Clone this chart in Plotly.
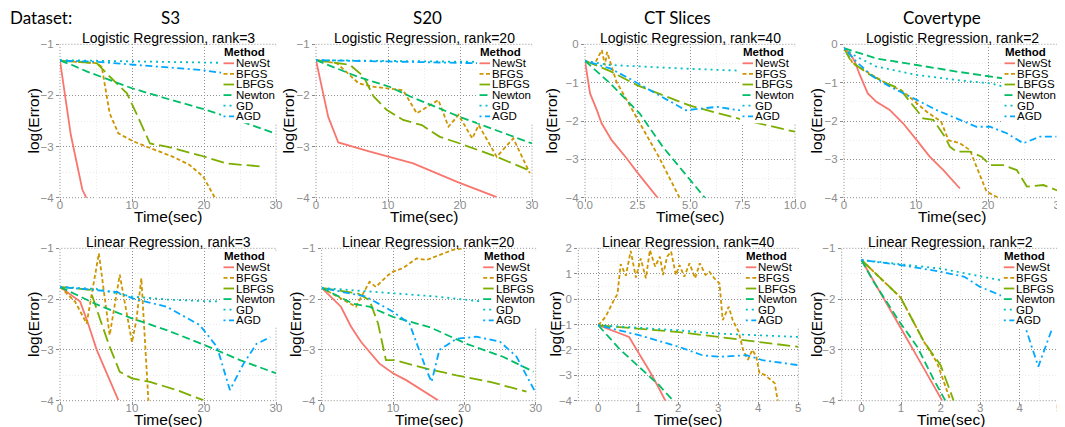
import plotly.graph_objects as go

# page photographed at 1065x427; the HTML body adds an 8px margin, so the figure
# is drawn 8px smaller and every screen position is shifted by that offset.
PAGE_W, PAGE_H = 1065, 427
OFF = 8
W, H = PAGE_W - OFF, PAGE_H - OFF

# ---------------- labels ----------------
METHODS = ["NewSt", "BFGS", "LBFGS", "Newton", "GD", "AGD"]
DATASETS = ["S3", "S20", "CT Slices", "Covertype"]
RANKS = [3, 20, 40, 2]
ROW_TITLES = ["Logistic Regression", "Linear Regression"]

# ---------------- Logistic regression: S3 ----------------
LOG_S3_NEWST_T = [0, 1.5, 3.1, 4.0]
LOG_S3_NEWST_Y = [-1.32, -2.77, -3.84, -4.1]
LOG_S3_BFGS_T = [0, 5.1, 5.8, 6.9, 8.1, 10.2, 12.0, 15.7, 18.0, 19.9, 21.7]
LOG_S3_BFGS_Y = [-1.32, -1.37, -1.44, -2.35, -2.74, -2.9, -3.0, -3.2, -3.36, -3.59, -4.05]
LOG_S3_LBFGS_T = [0, 5.1, 6.9, 9.3, 10.6, 12.5, 14.8, 19.4, 23.1, 28.0]
LOG_S3_LBFGS_Y = [-1.32, -1.37, -1.63, -1.96, -2.35, -2.94, -3.0, -3.17, -3.33, -3.39]
LOG_S3_NEWTON_T = [0, 1.6, 3.7, 6.9, 10, 15, 20, 25, 30]
LOG_S3_NEWTON_Y = [-1.32, -1.4, -1.53, -1.7, -1.86, -2.07, -2.27, -2.5, -2.75]
LOG_S3_GD_T = [0, 5, 10, 20, 30]
LOG_S3_GD_Y = [-1.31, -1.32, -1.34, -1.36, -1.38]
LOG_S3_AGD_T = [0, 5, 10.2, 19.4, 22, 30]
LOG_S3_AGD_Y = [-1.32, -1.34, -1.4, -1.5, -1.55, -1.65]

# ---------------- Logistic regression: S20 ----------------
LOG_S20_NEWST_T = [0, 1.7, 3.1, 7.5, 13.5, 19.6, 25.1]
LOG_S20_NEWST_Y = [-1.31, -2.42, -2.92, -3.1, -3.33, -3.69, -3.99]
LOG_S20_BFGS_T = [0, 2.9, 5.9, 7.5, 12.1, 14, 15.5, 17, 18.4, 19.8, 21.7, 22.6, 25.1, 27.4, 29.7]
LOG_S20_BFGS_Y = [-1.31, -1.37, -1.76, -1.82, -1.9, -2.35, -2.22, -2.09, -2.61, -2.38, -2.84, -2.58, -3.2, -2.84, -3.52]
LOG_S20_LBFGS_T = [0, 4.7, 6.6, 8.0, 9.8, 12.1, 14.7, 17.2, 20, 25.1, 30]
LOG_S20_LBFGS_Y = [-1.31, -1.4, -1.63, -2.02, -2.28, -2.48, -2.58, -2.81, -2.94, -3.2, -3.49]
LOG_S20_NEWTON_T = [0, 5.7, 10.2, 13.1, 20, 25.1, 30]
LOG_S20_NEWTON_Y = [-1.31, -1.63, -1.83, -2.02, -2.42, -2.68, -2.94]
LOG_S20_GD_T = [0, 10, 20, 30]
LOG_S20_GD_Y = [-1.31, -1.33, -1.34, -1.35]
LOG_S20_AGD_T = [0, 10, 22.3, 30]
LOG_S20_AGD_Y = [-1.31, -1.34, -1.37, -1.39]

# ---------------- Logistic regression: CT Slices ----------------
LOG_CT_NEWST_T = [0, 0.24, 0.56, 0.79, 1.27, 1.98, 2.46, 3.1, 3.5]
LOG_CT_NEWST_Y = [-0.43, -1.28, -1.71, -2.06, -2.5, -2.97, -3.32, -3.76, -4.03]
LOG_CT_BFGS_T = [0, 0.45, 0.8, 0.95, 1.05, 1.5, 2.5, 3.5, 4.55]
LOG_CT_BFGS_Y = [-0.43, -0.52, -0.15, -0.55, -0.2, -0.98, -1.95, -2.92, -4.05]
LOG_CT_LBFGS_T = [0, 1.2, 2.5, 5, 7.4, 10]
LOG_CT_LBFGS_Y = [-0.43, -0.7, -1.07, -1.6, -1.95, -2.28]
LOG_CT_NEWTON_T = [0, 1.2, 2.6, 3.7, 5.75]
LOG_CT_NEWTON_Y = [-0.43, -1.02, -1.8, -2.67, -4.03]
LOG_CT_GD_T = [0, 1.2, 5, 7.5, 10]
LOG_CT_GD_Y = [-0.43, -0.54, -0.64, -0.69, -0.71]
LOG_CT_AGD_T = [0, 1.2, 2.1, 3.7, 4.8, 6.3, 7.2, 10]
LOG_CT_AGD_Y = [-0.43, -0.63, -0.89, -1.37, -1.72, -1.63, -1.71, -1.85]

# ---------------- Logistic regression: Covertype ----------------
LOG_COV_NEWST_T = [0, 0.8, 1.5, 2.2, 3.3, 4.5, 6.35, 8.2, 10.1, 11.9, 13.8, 16.1]
LOG_COV_NEWST_Y = [-0.1, -0.23, -0.45, -0.8, -1.28, -1.5, -1.71, -2.06, -2.5, -2.93, -3.28, -3.76]
LOG_COV_BFGS_T = [0, 1.25, 3.1, 5.9, 8.2, 10.1, 11.5, 13.5, 14.5, 16.1, 17.5, 18.4, 19.8, 21.6]
LOG_COV_BFGS_Y = [-0.1, -0.5, -0.71, -1.02, -1.23, -1.54, -1.76, -2.02, -2.5, -2.58, -2.76, -3.19, -3.84, -4.02]
LOG_COV_LBFGS_T = [0, 1, 3.3, 5.9, 7.7, 10.5, 11, 12.4, 14, 14.7, 15.6, 17.5, 19.1, 20.3, 22.1, 24, 25.4, 27.7, 30]
LOG_COV_LBFGS_Y = [-0.1, -0.45, -0.76, -1.02, -1.15, -1.8, -1.93, -1.97, -2.41, -2.67, -2.8, -2.8, -2.93, -3.15, -3.15, -3.28, -3.71, -3.67, -3.84]
LOG_COV_NEWTON_T = [0, 4.5, 10.1, 15.6, 22.1, 30]
LOG_COV_NEWTON_Y = [-0.1, -0.37, -0.54, -0.71, -0.89, -1.05]
LOG_COV_GD_T = [0, 1.7, 4.5, 10.1, 15.6, 20.3, 22.1, 30]
LOG_COV_GD_Y = [-0.1, -0.32, -0.58, -0.8, -0.93, -1.02, -1.1, -1.18]
LOG_COV_AGD_T = [0, 1.7, 4, 6.35, 10.1, 12.8, 16.1, 18.4, 20.3, 22.6, 24.9, 27.2, 29.5]
LOG_COV_AGD_Y = [-0.1, -0.45, -0.84, -1.1, -1.45, -1.71, -1.97, -2.15, -2.15, -2.32, -2.58, -2.41, -2.41]

# ---------------- Linear regression: S3 ----------------
LIN_S3_NEWST_T = [0, 2.8, 3.9, 5.1, 6.5, 8.1]
LIN_S3_NEWST_Y = [-1.76, -2.05, -2.48, -3.0, -3.46, -3.99]
LIN_S3_BFGS_T = [0, 2.1, 3.7, 5.4, 6.9, 8.3, 10.0, 10.6, 11.3, 12.3]
LIN_S3_BFGS_Y = [-1.76, -2.05, -2.48, -1.1, -2.71, -1.52, -2.85, -2.42, -1.59, -4.05]
LIN_S3_LBFGS_T = [0, 4.2, 5.6, 6.9, 8.3, 10, 12.5, 16.2, 19.9]
LIN_S3_LBFGS_Y = [-1.76, -1.82, -2.41, -2.94, -3.43, -3.56, -3.63, -3.79, -3.99]
LIN_S3_NEWTON_T = [0, 5, 10, 15, 20, 25, 30]
LIN_S3_NEWTON_Y = [-1.76, -2.1, -2.38, -2.62, -2.9, -3.2, -3.46]
LIN_S3_GD_T = [0, 5, 10, 15, 20, 30]
LIN_S3_GD_Y = [-1.76, -1.8, -1.95, -2.01, -2.04, -2.07]
LIN_S3_AGD_T = [0, 7.9, 10.2, 14.8, 19.4, 21.8, 23.6, 25.5, 27.3, 29.2]
LIN_S3_AGD_Y = [-1.76, -1.86, -1.99, -2.15, -2.51, -2.94, -3.79, -3.27, -2.88, -2.75]

# ---------------- Linear regression: S20 ----------------
LIN_S20_NEWST_T = [0, 2.7, 4.1, 5.5, 8.1, 10, 11.9, 16.3]
LIN_S20_NEWST_Y = [-1.78, -2.15, -2.54, -2.84, -3.27, -3.46, -3.6, -3.99]
LIN_S20_BFGS_T = [0, 3.4, 4.8, 6.7, 7.6, 9.3, 10, 11.4, 13.3, 14.7, 16.5, 18.4, 19.8]
LIN_S20_BFGS_Y = [-1.78, -2.05, -2.15, -1.66, -1.76, -1.53, -1.46, -1.39, -1.2, -1.23, -1.13, -1.03, -1.0]
LIN_S20_LBFGS_T = [0, 5.1, 6.7, 7.9, 9, 10.2, 14.7, 18.9, 23.6, 28.7]
LIN_S20_LBFGS_Y = [-1.78, -1.89, -2.02, -2.48, -3.2, -3.2, -3.37, -3.5, -3.63, -3.82]
LIN_S20_NEWTON_T = [0, 4.4, 6.7, 10, 15.1, 20.3, 25.5, 29.7]
LIN_S20_NEWTON_Y = [-1.78, -2.09, -2.15, -2.35, -2.55, -2.88, -3.14, -3.43]
LIN_S20_GD_T = [0, 10, 16.1, 22.6, 30]
LIN_S20_GD_Y = [-1.78, -1.89, -1.95, -2.05, -2.1]
LIN_S20_AGD_T = [0, 6.2, 10, 12.3, 14.7, 15.4, 16.5, 18.9, 21.7, 25, 27.3, 29.9]
LIN_S20_AGD_Y = [-1.78, -1.95, -2.25, -2.48, -3.4, -3.63, -3.0, -2.78, -2.74, -2.84, -3.13, -3.82]

# ---------------- Linear regression: CT Slices ----------------
LIN_CT_NEWST_T = [0, 0.77, 1.02, 1.27, 1.52, 1.69]
LIN_CT_NEWST_Y = [-1.03, -1.49, -2.15, -2.8, -3.52, -4.04]
LIN_CT_BFGS_T = [0, 0.18, 0.39, 0.48, 0.56, 0.69, 0.81, 0.94, 1.06, 1.19, 1.29, 1.42, 1.54, 1.62, 1.72,
                 1.82, 1.94, 2.03, 2.15, 2.28, 2.42, 2.54, 2.68, 2.78, 2.9, 3.03, 3.11, 3.26, 3.36, 3.51,
                 3.62, 3.74, 3.85, 3.95, 4.03, 4.16, 4.41, 4.49]
LIN_CT_BFGS_Y = [-1.03, -0.7, -0.04, 0.2, 1.38, 0.92, 1.9, 0.85, 1.6, 0.82, 1.93, 1.28, 1.67, 0.95, 1.67,
                 1.87, 0.95, 1.34, 0.88, 1.41, 0.82, 1.41, 0.95, 1.07, 0.82, 0.62, -0.83, -0.3, -0.83, -1.29,
                 -2.0, -2.39, -2.0, -2.26, -2.92, -2.98, -3.31, -4.04]
LIN_CT_LBFGS_T = [0, 1.02, 2.02, 3, 4, 5]
LIN_CT_LBFGS_Y = [-1.03, -1.16, -1.3, -1.49, -1.69, -1.88]
LIN_CT_NEWTON_T = [0, 0.52, 1.02, 1.52, 1.86]
LIN_CT_NEWTON_Y = [-1.03, -1.95, -2.67, -3.39, -3.98]
LIN_CT_GD_T = [0, 2.02, 3, 4, 5]
LIN_CT_GD_Y = [-1.03, -1.23, -1.36, -1.43, -1.49]
LIN_CT_AGD_T = [0, 1.02, 2.02, 2.6, 3.03, 3.7, 4.1, 5]
LIN_CT_AGD_Y = [-1.03, -1.42, -1.88, -2.21, -2.27, -2.21, -2.4, -2.6]

# ---------------- Linear regression: Covertype ----------------
LIN_COV_NEWST_T = [0, 0.4, 1.0, 1.5, 2.04]
LIN_COV_NEWST_Y = [-1.23, -1.76, -2.58, -3.26, -4.0]
LIN_COV_BFGS_T = [0, 0.99, 1.58, 1.91, 2.25]
LIN_COV_BFGS_Y = [-1.23, -1.97, -2.84, -3.25, -4.0]
LIN_COV_LBFGS_T = [0, 0.99, 1.58, 2.0, 2.33]
LIN_COV_LBFGS_Y = [-1.23, -1.97, -2.84, -3.3, -4.0]
LIN_COV_NEWTON_T = [0, 0.3, 0.99, 1.41, 1.83, 2.12]
LIN_COV_NEWTON_Y = [-1.23, -1.65, -2.48, -2.94, -3.59, -4.0]
LIN_COV_GD_T = [0, 2, 3, 4, 5]
LIN_COV_GD_Y = [-1.23, -1.4, -1.55, -1.7, -1.8]
LIN_COV_AGD_T = [0, 1, 2, 2.6, 3, 3.5, 3.95, 4.47, 4.8]
LIN_COV_AGD_Y = [-1.23, -1.33, -1.46, -1.56, -1.76, -1.92, -2.1, -3.33, -2.62]

PANEL_SERIES = [
    [(LOG_S3_NEWST_T, LOG_S3_NEWST_Y), (LOG_S3_BFGS_T, LOG_S3_BFGS_Y), (LOG_S3_LBFGS_T, LOG_S3_LBFGS_Y),
     (LOG_S3_NEWTON_T, LOG_S3_NEWTON_Y), (LOG_S3_GD_T, LOG_S3_GD_Y), (LOG_S3_AGD_T, LOG_S3_AGD_Y)],
    [(LOG_S20_NEWST_T, LOG_S20_NEWST_Y), (LOG_S20_BFGS_T, LOG_S20_BFGS_Y), (LOG_S20_LBFGS_T, LOG_S20_LBFGS_Y),
     (LOG_S20_NEWTON_T, LOG_S20_NEWTON_Y), (LOG_S20_GD_T, LOG_S20_GD_Y), (LOG_S20_AGD_T, LOG_S20_AGD_Y)],
    [(LOG_CT_NEWST_T, LOG_CT_NEWST_Y), (LOG_CT_BFGS_T, LOG_CT_BFGS_Y), (LOG_CT_LBFGS_T, LOG_CT_LBFGS_Y),
     (LOG_CT_NEWTON_T, LOG_CT_NEWTON_Y), (LOG_CT_GD_T, LOG_CT_GD_Y), (LOG_CT_AGD_T, LOG_CT_AGD_Y)],
    [(LOG_COV_NEWST_T, LOG_COV_NEWST_Y), (LOG_COV_BFGS_T, LOG_COV_BFGS_Y), (LOG_COV_LBFGS_T, LOG_COV_LBFGS_Y),
     (LOG_COV_NEWTON_T, LOG_COV_NEWTON_Y), (LOG_COV_GD_T, LOG_COV_GD_Y), (LOG_COV_AGD_T, LOG_COV_AGD_Y)],
    [(LIN_S3_NEWST_T, LIN_S3_NEWST_Y), (LIN_S3_BFGS_T, LIN_S3_BFGS_Y), (LIN_S3_LBFGS_T, LIN_S3_LBFGS_Y),
     (LIN_S3_NEWTON_T, LIN_S3_NEWTON_Y), (LIN_S3_GD_T, LIN_S3_GD_Y), (LIN_S3_AGD_T, LIN_S3_AGD_Y)],
    [(LIN_S20_NEWST_T, LIN_S20_NEWST_Y), (LIN_S20_BFGS_T, LIN_S20_BFGS_Y), (LIN_S20_LBFGS_T, LIN_S20_LBFGS_Y),
     (LIN_S20_NEWTON_T, LIN_S20_NEWTON_Y), (LIN_S20_GD_T, LIN_S20_GD_Y), (LIN_S20_AGD_T, LIN_S20_AGD_Y)],
    [(LIN_CT_NEWST_T, LIN_CT_NEWST_Y), (LIN_CT_BFGS_T, LIN_CT_BFGS_Y), (LIN_CT_LBFGS_T, LIN_CT_LBFGS_Y),
     (LIN_CT_NEWTON_T, LIN_CT_NEWTON_Y), (LIN_CT_GD_T, LIN_CT_GD_Y), (LIN_CT_AGD_T, LIN_CT_AGD_Y)],
    [(LIN_COV_NEWST_T, LIN_COV_NEWST_Y), (LIN_COV_BFGS_T, LIN_COV_BFGS_Y), (LIN_COV_LBFGS_T, LIN_COV_LBFGS_Y),
     (LIN_COV_NEWTON_T, LIN_COV_NEWTON_Y), (LIN_COV_GD_T, LIN_COV_GD_Y), (LIN_COV_AGD_T, LIN_COV_AGD_Y)],
]

# ---------------- styling ----------------
COLORS = ["#F8766D", "#CD9600", "#7CAE00", "#00BE67", "#00BFC4", "#00A9FF"]
DASHES = ["solid", "4px,2.5px", "13px,5px", "8px,4px", "2px,4px", "2px,3.5px,7px,3.5px"]
FONT = "Liberation Sans, Arial, Helvetica, sans-serif"
HEAD_FONT = "Lato, Open Sans, sans-serif"
GRID_MAJOR = "#8F8F8F"
GRID_MINOR = "#EBEBEB"
TICK_COLOR = "#8C8C8C"

# panel geometry in page px: (x0, x1, y0_top, y1_bottom, xrange, yrange, xdtick, xformat)
PANELS = [
    (60, 276, 44.3, 197.7, [0, 30], [-4, -1], 10, None),
    (316, 532, 44.3, 197.7, [0, 30], [-4, -1], 10, None),
    (585, 795, 44.3, 197.7, [0, 10], [-4, 0], 2.5, ".1f"),
    (844, 1060, 44.3, 197.7, [0, 30], [-4, 0], 10, None),
    (60, 276, 248.3, 400.7, [0, 30], [-4, -1], 10, None),
    (321.7, 535.7, 248.3, 400.7, [0, 30], [-4, -1], 10, None),
    (578.3, 798.3, 248.3, 400.7, [-0.5, 5], [-4, 2], 1, None),
    (841.7, 1059.3, 248.3, 400.7, [-0.5, 5], [-4, -1], 1, None),
]
YTITLE_X = [33.5, 288.5, 551.5, 816.5, 33.5, 295.5, 555, 816.5]
LEGEND_INSET = [53, 53, 53, 56, 53, 53, 53, 56]


def px(x):
    return (x - OFF) / W


def py(y):
    return 1 - (y - OFF) / H


fig = go.Figure()
layout = dict(
    width=W, height=H, margin=dict(l=0, r=0, t=0, b=0, autoexpand=False),
    paper_bgcolor="white", plot_bgcolor="white", showlegend=False,
    font=dict(family=FONT, color="black"),
)
shapes = []
annotations = []

for i, (x0, x1, y0, y1, xr, yr, xdt, xfmt) in enumerate(PANELS):
    n = i + 1
    sx = "" if n == 1 else str(n)
    common = dict(
        showgrid=True, gridcolor=GRID_MAJOR, griddash="1px,2px", gridwidth=1,
        zeroline=False, showline=False, ticks="outside", ticklen=3, tickcolor=TICK_COLOR,
        tickfont=dict(size=11.5, color=TICK_COLOR, family=FONT), fixedrange=True,
        automargin=False, ticklabeloverflow="allow",
    )
    xa = dict(
        domain=[px(x0), px(x1)], range=xr, anchor="y" + sx, tick0=0, dtick=xdt,
        minor=dict(tick0=0, dtick=xdt / 2, showgrid=True, gridcolor=GRID_MINOR, gridwidth=1),
        ticklabelstandoff=-7, **common,
    )
    if xfmt:
        xa["tickformat"] = xfmt
    ya = dict(
        domain=[py(y1), py(y0)], range=yr, anchor="x" + sx, tick0=0, dtick=1,
        minor=dict(tick0=0, dtick=0.5, showgrid=True, gridcolor=GRID_MINOR, gridwidth=1),
        **common,
    )
    layout["xaxis" + sx] = xa
    layout["yaxis" + sx] = ya

    # data lines
    for m, (t, y) in enumerate(PANEL_SERIES[i]):
        fig.add_trace(go.Scatter(
            x=t, y=y, mode="lines", name=METHODS[m],
            line=dict(color=COLORS[m], width=1.8, dash=DASHES[m]),
            xaxis="x" + sx, yaxis="y" + sx, showlegend=False, hoverinfo="skip",
        ))

    # dotted panel border
    shapes.append(dict(type="rect", xref="x" + sx + " domain", yref="y" + sx + " domain",
                       x0=0, x1=1, y0=0, y1=1, layer="below",
                       line=dict(color=GRID_MAJOR, width=1, dash="1px,2px")))

    # panel title
    row = i // 4
    col = i % 4
    annotations.append(dict(
        text=f"{ROW_TITLES[row]}, rank={RANKS[col]}", x=px((x0 + x1) / 2), y=py(y0 - 6.5),
        xref="paper", yref="paper", showarrow=False, xanchor="center", yanchor="middle",
        font=dict(size=14, family=FONT, color="black")))
    # axis titles
    annotations.append(dict(
        text="Time(sec)", x=px((x0 + x1) / 2), y=py(y1 + 18.5), xref="paper", yref="paper",
        showarrow=False, xanchor="center", yanchor="middle",
        font=dict(size=15.5, family=FONT, color="black")))
    annotations.append(dict(
        text="log(Error)", x=px(YTITLE_X[i]), y=py((y0 + y1) / 2), xref="paper", yref="paper",
        showarrow=False, xanchor="center", yanchor="middle", textangle=-90,
        font=dict(size=15.5, family=FONT, color="black")))

    # legend (drawn manually, inside top-right of the panel)
    lx = x1 - LEGEND_INSET[i]
    shapes.append(dict(type="rect", xref="paper", yref="paper",
                       x0=px(lx - 2), x1=px(x1 + 2), y0=py(y0 + 79), y1=py(y0 + 2.5),
                       fillcolor="white", line=dict(width=0), layer="above"))
    annotations.append(dict(
        text="<b>Method</b>", x=px(lx - 1), y=py(y0 + 8), xref="paper", yref="paper",
        showarrow=False, xanchor="left", yanchor="middle",
        font=dict(size=11.5, family=FONT, color="black")))
    for m, name in enumerate(METHODS):
        ey = y0 + 19 + 10.6 * m
        shapes.append(dict(type="line", xref="paper", yref="paper",
                           x0=px(lx + 0.5), x1=px(lx + 11), y0=py(ey), y1=py(ey), layer="above",
                           line=dict(color=COLORS[m], width=1.8, dash=DASHES[m])))
        annotations.append(dict(
            text=name, x=px(lx + 11), y=py(ey), xref="paper", yref="paper",
            showarrow=False, xanchor="left", yanchor="middle",
            font=dict(size=11.5, family=FONT, color="black")))

# dataset headers
annotations.append(dict(text="Dataset:", x=px(8), y=py(17), xref="paper", yref="paper",
                        showarrow=False, xanchor="left", yanchor="middle",
                        font=dict(size=17, family=HEAD_FONT, color="black")))
HEAD_X = [170, 427, 677, 942]
for name, hx in zip(DATASETS, HEAD_X):
    annotations.append(dict(text=name, x=px(hx), y=py(17), xref="paper", yref="paper",
                            showarrow=False, xanchor="center", yanchor="middle",
                            font=dict(size=17, family=HEAD_FONT, color="black")))

layout["shapes"] = shapes
layout["annotations"] = annotations
fig.update_layout(**layout)
fig.write_html("out.html")
